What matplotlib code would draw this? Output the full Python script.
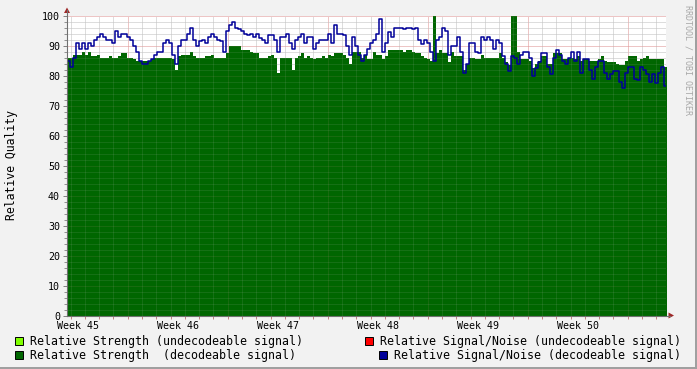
import numpy as np
import matplotlib
matplotlib.use('Agg')
import matplotlib.pyplot as plt
from matplotlib.patches import Rectangle, Polygon
from matplotlib.lines import Line2D

# canvas size in pixels (rrdtool style graph)
W, H = 697, 369

# relative strength of the decodeable signal, one sample every ~5 hours
strength = np.array([
    86, 86, 87, 87, 87, 88, 87, 88, 86.5, 86.5, 87, 86, 86, 86, 86.5, 86, 86, 86.5, 87.5, 87.5,
    86, 86, 85.5, 85, 85, 85, 85, 85, 85.5, 86, 86, 86, 86,
    86, 86, 85.5, 82, 86.5, 87, 87, 87, 88, 86.5, 86, 86, 86, 86.5, 86.5, 87, 86, 86, 86, 86,
    87.5, 90, 90, 90, 90, 88.5, 88.5, 88.5, 88, 87.5, 87.5, 86, 86, 86,
    86.5, 87, 86, 81, 86, 86, 86, 86, 82, 86, 86.5, 87.5, 86, 86.5, 86, 85.5, 86, 86, 86.5, 86,
    87, 86.5, 87.5, 87.5, 87.5, 87, 86, 84, 88, 88, 88, 86, 87,
    85.5, 85.5, 88, 87, 87, 85.5, 86.5, 88.5, 88.5, 88.5, 88.5, 88.5, 88, 88.5, 88.5, 88, 87.5,
    87.5, 86.5, 86, 85.5, 85, 100, 87.5, 88.5, 87.5, 87.5, 84.5, 88, 86.5, 86.5, 86.5, 82, 84,
    86, 86, 85.5, 85.5, 87, 86, 86, 86, 86, 86, 87.5, 86, 84.5, 83.5, 100, 100, 88, 85.5, 85.5,
    85.5, 85, 82.5, 84, 85, 86.5, 86.5, 84, 84, 87.5, 87.5, 87.5, 85.5, 85.5,
    86, 86, 85.5, 86.5, 85, 85.5, 85.5, 85, 85, 85, 85.5, 86.5, 85, 84.5, 84.5, 84.5, 84, 83.5,
    83.5, 85, 86.5, 86.5, 86.5, 85, 85.5, 86, 86.5, 85.5, 85.5, 85.5, 85.5, 85.5, 83,
])

# relative signal/noise of the decodeable signal
snr = np.array([
    85, 83, 86, 91, 89, 91, 89, 91, 90, 92, 93, 94, 93, 92, 92, 91, 95, 93, 94, 94,
    93, 92, 90, 88, 85, 84, 84, 85, 85.5, 87, 88, 88, 91,
    92, 91, 87, 84, 90, 92, 92, 94, 96, 92, 90, 91.5, 92, 91, 93, 94, 93, 92, 91.5, 88,
    95, 97, 98, 96, 95.5, 95, 94, 93.5, 94, 93, 94, 92.5, 92, 91,
    93.5, 93.5, 92, 88, 93, 93, 94, 91, 89, 92, 93, 94, 91, 93, 93, 89, 91, 92, 92, 92,
    94, 91, 97, 94, 94, 93.5, 90, 87, 93, 90, 87, 85, 87,
    89, 91, 92, 94, 99, 88, 91, 94.5, 93, 96, 96, 96, 95.5, 96, 96, 95.5, 96,
    92, 90.5, 92, 91, 88, 85, 92, 93, 96, 95, 87, 90, 90, 93, 88, 81, 84,
    91, 91, 88, 87.5, 93, 92, 93, 92, 89, 92, 91, 86.5, 84, 81.5, 86.5, 86, 84, 87, 88,
    88, 86, 80, 82.5, 84.5, 87.5, 87.5, 83, 80.5, 86, 88.5, 87, 85, 84,
    86, 88, 85, 88, 81, 85.5, 85.5, 82, 79, 83, 85, 85, 81, 79, 80.5, 81.5, 81.5, 78,
    76, 81, 83, 83, 79, 78.5, 83, 82, 80.5, 78, 80.5, 77.5, 81, 83, 76.5,
])

week_labels = ['Week 45', 'Week 46', 'Week 47', 'Week 48', 'Week 49', 'Week 50']

legend_labels = [
    'Relative Strength (undecodeable signal)',
    'Relative Signal/Noise (undecodeable signal)',
    'Relative Strength  (decodeable signal)',
    'Relative Signal/Noise (decodeable signal)',
]
legend_colors = ['#80ff00', '#ff0000', '#006600', '#000099']

step_days = 0.21             # sample spacing in days
span_days = 599 / (100 / 7)  # 100 px per week
day_offset = 0.25            # first midnight after graph start
week_offset = 4.25           # first monday midnight


def fx(x):
    return x / W


def fy(y):
    return 1 - y / H


mono = 'DejaVu Sans Mono'

fig = plt.figure(figsize=(W / 100, H / 100), dpi=100)
fig.patch.set_facecolor('#f2f2f2')
ax = fig.add_axes([fx(67), fy(315.5), 599 / W, 300 / H])
ax.set_facecolor('white')

t = np.arange(len(strength) + 1) * step_days
ax.fill_between(t, np.append(strength, strength[-1]), 0, step='post',
                color='#006600', lw=0, zorder=2)
ax.step(t, np.append(snr, snr[-1]), where='post', color='#000099', lw=1.1, zorder=4)

# grid: a clear copy under the area and a faint one over it
dots = (0, (1, 1))
days = np.arange(day_offset, span_days, 1)
weeks = np.arange(week_offset, span_days, 7)
for z, a in ((1, 1.0), (3, 0.22)):
    minor_kw = dict(color='#c4c4c4', alpha=a, lw=0.72, ls=dots, zorder=z, snap=True)
    major_kw = dict(color='#e09898', alpha=a, lw=0.72, ls=dots, zorder=z, snap=True)
    for d in days:
        if not np.any(np.isclose(d, weeks)):
            ax.axvline(d, **minor_kw)
    for d in weeks:
        ax.axvline(d, **major_kw)
    for v in range(2, 101, 2):
        ax.axhline(v, **(minor_kw if v % 10 else major_kw))

ax.set_xlim(0, span_days)
ax.set_ylim(0, 100)
for s in ax.spines.values():
    s.set_visible(False)

ax.set_yticks(range(0, 101, 10))
ax.set_yticks(range(0, 101, 2), minor=True)
ax.set_xticks(week_offset - 3.5 + 7 * np.arange(len(week_labels)), week_labels)
ax.set_xticks(days, minor=True)
ax.tick_params(axis='y', which='major', length=3, width=0.7, color='#808080', pad=2,
               labelsize=7.2)
ax.tick_params(axis='y', which='minor', length=2, width=0.7, color='#909090')
ax.tick_params(axis='x', which='major', length=0, pad=4, labelsize=7.2)
ax.tick_params(axis='x', which='minor', length=2, width=0.7, color='#c08080')
for lab in ax.get_xticklabels() + ax.get_yticklabels():
    lab.set_family(mono)

# axis lines with arrows
fig.add_artist(Line2D([fx(67), fx(67)], [fy(315.5), fy(10)], color='#707070', lw=0.8))
fig.add_artist(Line2D([fx(67), fx(670)], [fy(315.5), fy(315.5)], color='#707070', lw=0.8))
fig.add_artist(Polygon([(fx(67), fy(7.5)), (fx(64), fy(13)), (fx(70), fy(13))],
                       closed=True, color='#a02828', lw=0))
fig.add_artist(Polygon([(fx(674), fy(315.5)), (fx(668.5), fy(312.5)), (fx(668.5), fy(318.5))],
                       closed=True, color='#a02828', lw=0))

fig.text(fx(12), fy(165), 'Relative Quality', rotation=90, ha='center', va='center',
         fontsize=8.3, family=mono)
fig.text(fx(688), fy(60), 'RRDTOOL / TOBI OETIKER', rotation=270, ha='center', va='center',
         fontsize=6, family=mono, color='#a8a8a8')

# legend, two rows like rrdtool
legend_pos = [(15, 341, 30), (365, 341, 380), (15, 355, 30), (379, 355, 394)]
for (bx, by, tx), label, col in zip(legend_pos, legend_labels, legend_colors):
    fig.add_artist(Rectangle((fx(bx), fy(by + 4)), 8 / W, 8 / H, facecolor=col,
                             edgecolor='black', lw=0.7))
    fig.text(fx(tx), fy(by), label, ha='left', va='center', fontsize=8.35, family=mono)

# 3d-ish border
fig.add_artist(Rectangle((0, 0), 1, 2 / H, color='#a0a0a0', lw=0))
fig.add_artist(Rectangle((1 - 2 / W, 0), 2 / W, 1, color='#a0a0a0', lw=0))

fig.savefig('out.png', dpi=100, facecolor=fig.get_facecolor())
